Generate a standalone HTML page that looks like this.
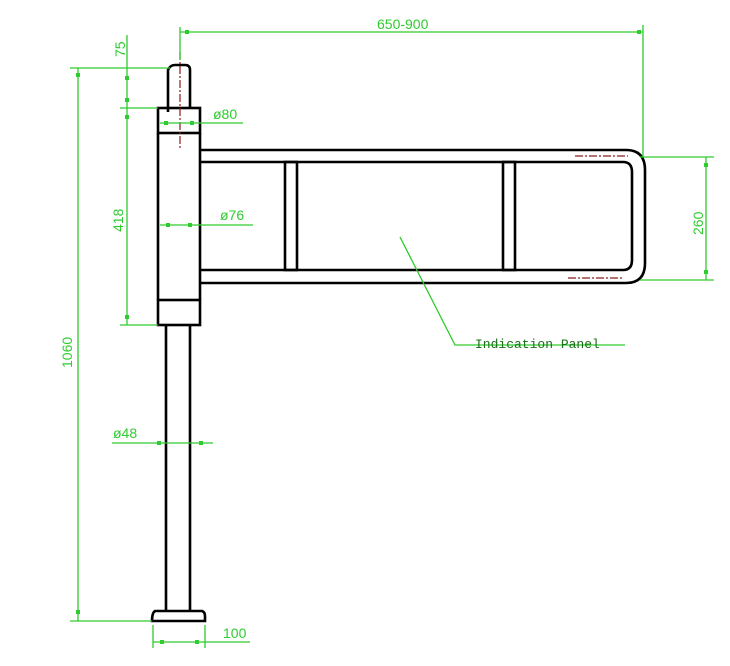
<!DOCTYPE html>
<html><head><style>body{margin:0;background:#fff}svg{display:block}</style></head><body>
<svg width="730" height="666" viewBox="0 0 730 666" xmlns="http://www.w3.org/2000/svg">
<g fill="none" stroke="#000" stroke-width="2.6">
<path d="M168,112 V70 Q170,65 175,65 H185 Q190,65 190,70 V108"/>
<rect x="158" y="108" width="42" height="25"/>
<line x1="158" y1="133" x2="158" y2="300"/>
<line x1="200" y1="133" x2="200" y2="300"/>
<rect x="158" y="300" width="42" height="25"/>
<line x1="166" y1="325" x2="166" y2="610"/>
<line x1="190" y1="325" x2="190" y2="610"/>
<path d="M155,611 H202 Q205,612 205,616 V621 H152 Q152,613 155,611Z"/>
<path d="M200,150 H626 Q645,150 645,170 V263 Q645,283 626,283 H200"/>
<path d="M200,162 H623 Q632,162 632,172 V260 Q632,270 623,270 H200"/>
<rect x="285" y="162" width="12" height="108"/>
<rect x="503" y="162" width="12" height="108"/>
</g>
<g stroke="#8b1a1a" stroke-width="1.2" stroke-dasharray="8,2,2,2" fill="none">
<line x1="180" y1="52" x2="180" y2="148"/>
<line x1="575" y1="156" x2="628" y2="156"/>
<line x1="568" y1="278" x2="622" y2="278"/>
</g>
<g stroke="#2ecc2e" stroke-width="1.3" fill="none">
<line x1="180" y1="32" x2="643" y2="32"/>
<line x1="180" y1="27" x2="180" y2="60"/>
<line x1="643" y1="25" x2="643" y2="157"/>
<line x1="640" y1="157" x2="714" y2="157"/>
<line x1="640" y1="280" x2="714" y2="280"/>
<line x1="706" y1="157" x2="706" y2="280"/>
<line x1="78" y1="68" x2="78" y2="621"/>
<line x1="70" y1="68" x2="170" y2="68"/>
<line x1="70" y1="621" x2="152" y2="621"/>
<line x1="127" y1="35" x2="127" y2="325"/>
<line x1="120" y1="108" x2="158" y2="108"/>
<line x1="120" y1="325" x2="158" y2="325"/>
<line x1="160" y1="123" x2="243" y2="123"/>
<line x1="160" y1="225" x2="253" y2="225"/>
<line x1="112" y1="443" x2="213" y2="443"/>
<line x1="153" y1="625" x2="153" y2="648"/>
<line x1="205" y1="625" x2="205" y2="648"/>
<line x1="153" y1="642" x2="250" y2="642"/>
<polyline points="400,237 455,345 625,345"/>
</g>
<g fill="#2ecc2e">
<rect x="185" y="30" width="4" height="4"/><rect x="637" y="30" width="4" height="4"/>
<rect x="704" y="163" width="4" height="4"/><rect x="704" y="270" width="4" height="4"/>
<rect x="76" y="73" width="4" height="4"/><rect x="76" y="610" width="4" height="4"/>
<rect x="125" y="76" width="4" height="4"/><rect x="125" y="98" width="4" height="4"/>
<rect x="125" y="115" width="4" height="4"/><rect x="125" y="315" width="4" height="4"/>
<rect x="164" y="121" width="4" height="4"/><rect x="190" y="121" width="4" height="4"/>
<rect x="166" y="223" width="4" height="4"/><rect x="188" y="223" width="4" height="4"/>
<rect x="157" y="441" width="4" height="4"/><rect x="199" y="441" width="4" height="4"/>
<rect x="160" y="640" width="4" height="4"/><rect x="195" y="640" width="4" height="4"/>
</g>
<g fill="#2ecc2e" font-family="Liberation Sans, sans-serif" font-size="14">
<text x="377" y="29">650-900</text>
<text x="213" y="119">ø80</text>
<text x="220" y="220">ø76</text>
<text x="113" y="438">ø48</text>
<text x="223" y="638">100</text>
<text transform="translate(125,57) rotate(-90)">75</text>
<text transform="translate(123,232) rotate(-90)">418</text>
<text transform="translate(72,368) rotate(-90)">1060</text>
<text transform="translate(703,235) rotate(-90)">260</text>
</g>
<text x="475" y="348" font-family="Liberation Mono, monospace" font-size="13" fill="#1a6e1a">Indication Panel</text>
</svg>
</body></html>
